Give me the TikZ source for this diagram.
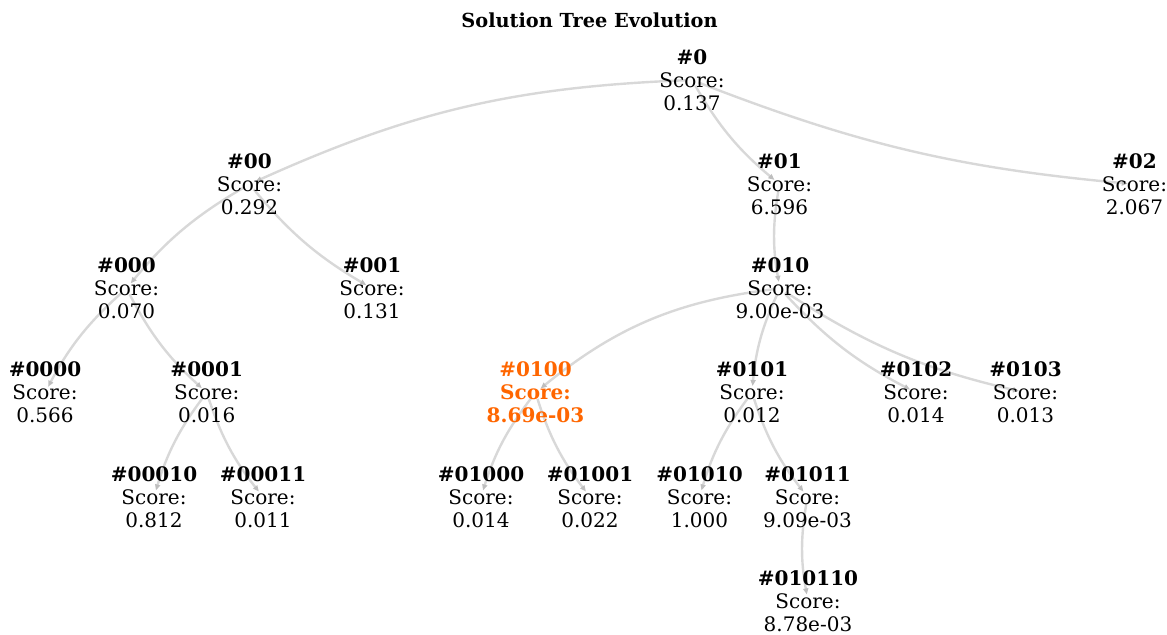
\documentclass[tikz,border=0pt]{standalone}
\usepackage{fontspec}
\setmainfont{DejaVu Serif}
\usetikzlibrary{arrows.meta,backgrounds}
\definecolor{edgegray}{RGB}{216,216,216}
\definecolor{headgray}{RGB}{190,190,190}
\definecolor{bestorange}{RGB}{255,102,0}
\tikzset{
  x=0.75pt, y=-0.75pt,
  tnode/.style={align=center, inner sep=0pt,
    font=\fontsize{15}{17.25}\selectfont},
  best/.style={tnode, text=bestorange, font=\fontsize{15}{17.25}\selectfont\bfseries},
  edge/.style={draw=edgegray, line width=1.8pt,
    -{Triangle[length=4.5pt,width=3.8pt,color=headgray]},
    shorten <=5pt, shorten >=5pt}
}
\newcommand{\tlabel}[2]{{\bfseries\##1}\\Score:\\#2}
\begin{document}
\begin{tikzpicture}
\useasboundingbox (0,0) rectangle (1167,635);

\node[font=\fontsize{14.5}{17}\selectfont\bfseries, anchor=base] (title) at (589.5,28) {Solution Tree Evolution};

% level 0
\node[tnode] (n0) at (692,80) {\tlabel{0}{0.137}};
% level 1
\node[tnode] (n00) at (249.5,184.2) {\tlabel{00}{0.292}};
\node[tnode] (n01) at (779.5,184.2) {\tlabel{01}{6.596}};
\node[tnode] (n02) at (1134.5,184.2) {\tlabel{02}{2.067}};
% level 2
\node[tnode] (n000) at (126.5,288.4) {\tlabel{000}{0.070}};
\node[tnode] (n001) at (372,288.4) {\tlabel{001}{0.131}};
\node[tnode] (n010) at (780,288.4) {\tlabel{010}{9.00e-03}};
% level 3
\node[tnode] (n0000) at (45,392.6) {\tlabel{0000}{0.566}};
\node[tnode] (n0001) at (206.7,392.6) {\tlabel{0001}{0.016}};
\node[best]  (n0100) at (535.5,392.6) {\#0100\\Score:\\8.69e-03};
\node[tnode] (n0101) at (752,392.6) {\tlabel{0101}{0.012}};
\node[tnode] (n0102) at (916,392.6) {\tlabel{0102}{0.014}};
\node[tnode] (n0103) at (1025.5,392.6) {\tlabel{0103}{0.013}};
% level 4
\node[tnode] (n00010) at (154,496.8) {\tlabel{00010}{0.812}};
\node[tnode] (n00011) at (263,496.8) {\tlabel{00011}{0.011}};
\node[tnode] (n01000) at (481,496.8) {\tlabel{01000}{0.014}};
\node[tnode] (n01001) at (590,496.8) {\tlabel{01001}{0.022}};
\node[tnode] (n01010) at (699.5,496.8) {\tlabel{01010}{1.000}};
\node[tnode] (n01011) at (807.5,496.8) {\tlabel{01011}{9.09e-03}};
% level 5
\node[tnode] (n010110) at (808,601) {\tlabel{010110}{8.78e-03}};

% parent-to-child connectors, behind the labels
\begin{scope}[on background layer]
\foreach \a/\b/\ang in {0/00/11, 0/01/10, 0/02/8,
    00/000/10, 00/001/10,
    000/0000/10, 000/0001/10,
    0001/00010/10, 0001/00011/10,
    01/010/10,
    010/0100/16, 010/0101/10, 010/0102/10, 010/0103/10,
    0100/01000/10, 0100/01001/10,
    0101/01010/10, 0101/01011/10,
    01011/010110/10}
  \draw[edge] (n\a.center) to[bend right=\ang] (n\b.center);
\end{scope}
\end{tikzpicture}
\end{document}
